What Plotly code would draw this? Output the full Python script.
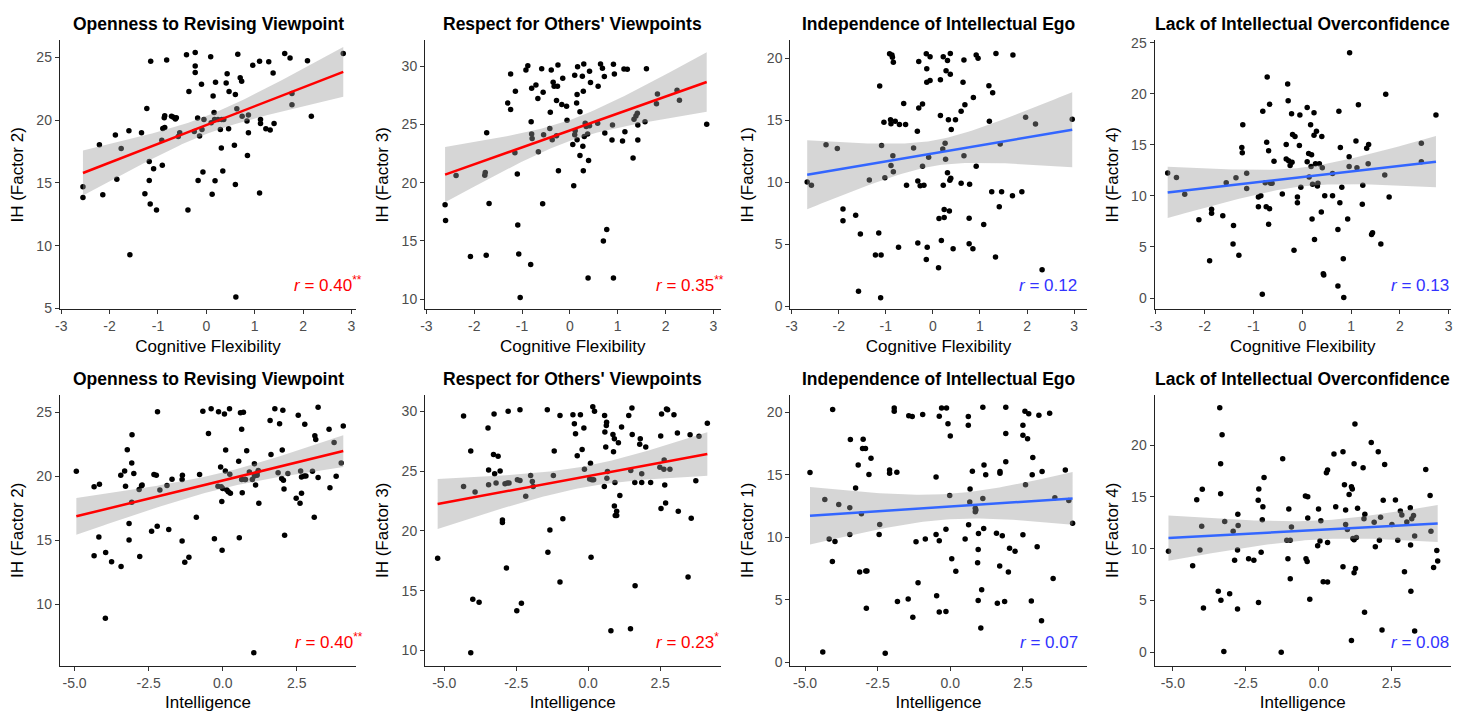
import numpy as np
import plotly.graph_objects as go

# ---------------------------------------------------------------------------
# Data: cognitive flexibility (row 1) and intelligence (row 2) against the
# four intellectual-humility factors.
# ---------------------------------------------------------------------------

# Cognitive Flexibility vs Openness to Revising Viewpoint (Factor 2)
cf_open_x = [
    -2.55, -2.55, -2.21, -2.14, -1.88, -1.85, -1.76, -1.60, -1.58, -1.34,
    -1.27, -1.23, -1.18, -1.18, -1.16, -1.15, -1.09, -1.03, -0.92, -0.91,
    -0.90, -0.86, -0.86, -0.87, -0.82, -0.72, -0.68, -0.64, -0.62, -0.58,
    -0.55, -0.41, -0.38, -0.36, -0.25, -0.23, -0.23, -0.23, -0.18, -0.17,
    -0.14, -0.10, -0.09, -0.05, -0.07, 0.09, 0.10, 0.12, 0.14, 0.16,
    0.17, 0.18, 0.19, 0.24, 0.29, 0.31, 0.32, 0.34, 0.36, 0.41,
    0.43, 0.46, 0.47, 0.58, 0.60, 0.60, 0.61, 0.65, 0.63, 0.70,
    0.73, 0.74, 0.84, 0.85, 0.87, 0.87, 0.96, 1.10, 1.10, 1.12,
    1.12, 1.23, 1.29, 1.32, 1.38, 1.40, 1.62, 1.73, 1.77, 1.77,
    2.09, 2.17, 2.83,
]
cf_open_y = [
    14.70, 13.84, 18.04, 14.05, 18.82, 15.30, 17.75, 19.16, 9.28, 19.00,
    14.13, 20.93, 16.71, 15.20, 13.32, 24.69, 16.13, 12.85, 18.40, 16.40,
    19.34, 19.42, 20.36, 20.20, 24.79, 20.31, 20.23, 20.10, 20.20, 18.69,
    19.00, 25.21, 12.85, 22.29, 19.10, 23.80, 24.32, 25.39, 20.18, 15.20,
    18.74, 22.86, 19.26, 20.05, 15.87, 25.05, 19.79, 14.10, 21.92, 20.62,
    20.05, 15.17, 23.02, 20.05, 19.26, 17.78, 20.05, 15.95, 20.05, 22.97,
    23.70, 19.32, 22.29, 18.01, 22.05, 14.88, 5.91, 25.26, 20.91, 23.38,
    23.10, 20.31, 19.94, 17.18, 20.41, 19.00, 24.37, 24.69, 14.20, 20.05,
    19.73, 19.32, 24.66, 19.21, 23.75, 19.73, 25.31, 24.95, 22.13, 21.22,
    24.74, 20.31, 25.31,
]

# Cognitive Flexibility vs Respect for Others' Viewpoints (Factor 3)
cf_resp_x = [
    -2.61, -2.60, -2.38, -2.08, -1.78, -1.77, -1.75, -1.74, -1.69, -1.30,
    -1.24, -1.24, -1.15, -1.14, -1.10, -1.09, -1.07, -1.04, -0.92, -0.88,
    -0.82, -0.81, -0.80, -0.80, -0.79, -0.71, -0.67, -0.66, -0.59, -0.57,
    -0.56, -0.55, -0.42, -0.41, -0.39, -0.37, -0.35, -0.33, -0.28, -0.26,
    -0.28, -0.25, -0.24, -0.17, -0.15, -0.07, -0.06, 0.06, 0.08, 0.10,
    0.10, 0.11, 0.14, 0.15, 0.16, 0.15, 0.21, 0.21, 0.26, 0.27,
    0.28, 0.28, 0.29, 0.30, 0.32, 0.34, 0.37, 0.38, 0.39, 0.41,
    0.43, 0.41, 0.59, 0.58, 0.64, 0.68, 0.70, 0.72, 0.73, 0.77,
    0.88, 0.89, 0.91, 0.91, 0.93, 1.10, 1.13, 1.15, 1.20, 1.32,
    1.34, 1.38, 1.41, 1.42, 1.42, 1.57, 1.60, 1.81, 1.83, 2.24,
    2.29, 2.86,
]
cf_resp_y = [
    18.11, 16.75, 20.62, 13.67, 20.65, 20.88, 13.78, 24.29, 18.22, 26.84,
    26.30, 29.35, 22.57, 27.85, 20.76, 16.36, 13.87, 10.14, 29.69, 30.06,
    12.97, 25.25, 28.11, 24.18, 23.81, 28.39, 27.23, 22.66, 29.80, 18.19,
    27.77, 24.12, 24.66, 26.05, 29.69, 23.70, 28.64, 28.28, 27.06, 28.28,
    24.04, 30.11, 21.02, 26.72, 28.98, 26.58, 25.37, 23.28, 19.75, 29.24,
    24.12, 24.46, 26.86, 27.57, 29.97, 23.70, 26.10, 22.34, 29.15, 23.14,
    27.85, 21.02, 30.20, 23.98, 25.11, 24.83, 24.18, 11.81, 21.92, 29.58,
    28.62, 24.89, 28.28, 25.11, 30.20, 29.83, 15.00, 29.12, 24.27, 15.99,
    23.67, 24.97, 30.17, 11.81, 29.35, 23.59, 29.77, 24.38, 29.75, 22.12,
    25.45, 25.73, 25.96, 24.97, 23.67, 25.25, 29.80, 26.78, 27.63, 27.94,
    27.09, 25.03,
]

# Cognitive Flexibility vs Independence of Intellectual Ego (Factor 1)
cf_indep_x = [
    -2.67, -2.58, -2.27, -2.03, -1.91, -1.91, -1.64, -1.54, -1.58, -1.35,
    -1.22, -1.15, -1.13, -1.10, -1.11, -1.09, -1.04, -1.02, -0.92, -0.90,
    -0.89, -0.89, -0.87, -0.86, -0.85, -0.84, -0.84, -0.80, -0.71, -0.73,
    -0.62, -0.58, -0.56, -0.41, -0.33, -0.32, -0.32, -0.30, -0.30, -0.27,
    -0.22, -0.22, -0.19, -0.14, -0.13, -0.13, -0.14, -0.12, -0.09, -0.06,
    -0.06, 0.12, 0.13, 0.16, 0.16, 0.18, 0.21, 0.22, 0.22, 0.24,
    0.24, 0.26, 0.27, 0.28, 0.31, 0.31, 0.33, 0.35, 0.36, 0.37,
    0.37, 0.38, 0.39, 0.43, 0.48, 0.60, 0.60, 0.64, 0.66, 0.66,
    0.68, 0.77, 0.77, 0.78, 0.86, 0.85, 0.92, 0.92, 0.96, 1.08,
    1.19, 1.20, 1.25, 1.27, 1.33, 1.34, 1.41, 1.43, 1.46, 1.69,
    1.70, 1.89, 1.97, 2.18, 2.32, 2.96,
]
cf_indep_y = [
    10.03, 9.76, 13.03, 12.72, 7.84, 6.89, 7.33, 5.83, 1.21, 10.18,
    4.12, 5.91, 17.76, 4.12, 0.69, 12.96, 14.85, 10.37, 20.37, 15.04,
    14.72, 11.35, 20.26, 20.08, 12.14, 19.68, 10.84, 14.93, 14.67, 4.75,
    16.36, 14.67, 9.76, 12.77, 14.12, 10.11, 5.09, 15.99, 19.74, 9.71,
    16.31, 11.29, 9.76, 3.77, 18.07, 19.16, 20.37, 4.75, 12.01, 18.21,
    20.13, 3.11, 7.07, 18.28, 15.38, 5.30, 12.69, 20.13, 9.76, 7.81,
    7.15, 13.14, 11.85, 19.00, 19.82, 10.77, 15.04, 7.68, 10.16, 18.71,
    20.40, 10.32, 14.25, 4.64, 15.04, 15.73, 9.92, 18.07, 19.87, 12.14,
    16.25, 7.10, 5.04, 9.84, 16.83, 4.64, 11.29, 20.26, 20.00, 6.60,
    17.78, 14.93, 9.23, 17.23, 3.96, 20.40, 8.02, 13.09, 9.23, 8.92,
    20.26, 9.23, 15.25, 14.70, 2.93, 15.09,
]

# Cognitive Flexibility vs Lack of Intellectual Overconfidence (Factor 4)
cf_overc_x = [
    -2.76, -2.58, -2.41, -2.12, -1.86, -1.86, -1.90, -1.63, -1.56, -1.41,
    -1.42, -1.36, -1.30, -1.24, -1.23, -1.22, -1.14, -1.14, -0.90, -0.90,
    -0.85, -0.81, -0.82, -0.76, -0.74, -0.72, -0.73, -0.69, -0.69, -0.67,
    -0.67, -0.65, -0.62, -0.58, -0.41, -0.33, -0.33, -0.30, -0.29, -0.28,
    -0.25, -0.22, -0.21, -0.20, -0.17, -0.15, -0.10, -0.10, -0.06, -0.05,
    -0.03, 0.10, 0.10, 0.13, 0.14, 0.17, 0.18, 0.19, 0.20, 0.21,
    0.24, 0.24, 0.25, 0.27, 0.29, 0.31, 0.32, 0.35, 0.39, 0.40,
    0.41, 0.43, 0.44, 0.46, 0.62, 0.62, 0.73, 0.73, 0.75, 0.77,
    0.78, 0.81, 0.84, 0.85, 0.93, 0.96, 0.96, 0.97, 1.12, 1.10,
    1.15, 1.23, 1.24, 1.32, 1.35, 1.36, 1.42, 1.44, 1.61, 1.69,
    1.71, 1.78, 2.44, 2.44, 2.74,
]
cf_overc_y = [
    12.25, 11.80, 10.15, 7.67, 8.68, 8.30, 3.66, 8.05, 11.29, 7.09,
    5.28, 11.77, 4.20, 14.73, 14.22, 16.95, 12.21, 10.72, 8.94, 9.89,
    10.02, 18.29, 0.38, 11.29, 8.94, 21.63, 15.24, 14.41, 7.22, 18.96,
    8.75, 11.23, 11.23, 13.39, 10.18, 15.04, 13.61, 20.96, 19.31, 13.45,
    12.98, 18.03, 13.30, 16.00, 4.68, 15.81, 9.89, 9.32, 14.92, 17.91,
    10.85, 18.64, 13.33, 14.15, 11.86, 16.95, 12.88, 14.03, 7.73, 11.13,
    15.94, 18.13, 5.73, 13.14, 16.32, 10.97, 11.23, 13.14, 8.43, 15.81,
    12.75, 2.39, 2.26, 10.02, 10.02, 12.18, 1.18, 6.71, 18.29, 9.32,
    14.73, 10.85, 3.85, 0.06, 7.73, 13.84, 12.88, 24.01, 12.75, 15.36,
    18.92, 9.19, 11.04, 14.66, 13.14, 15.04, 6.23, 6.39, 5.28, 12.05,
    19.94, 9.89, 15.14, 13.33, 17.91,
]

# Intelligence vs Openness to Revising Viewpoint (Factor 2)
iq_open_x = [
    -4.94, -4.34, -4.34, -4.16, -4.18, -3.95, -3.96, -3.75, -3.44, -3.43,
    -3.31, -3.28, -3.22, -3.16, -3.16, -3.07, -3.06, -3.07, -3.00, -2.82,
    -2.80, -2.74, -2.72, -2.40, -2.32, -2.24, -2.21, -2.20, -2.12, -1.88,
    -1.82, -1.71, -1.36, -1.37, -1.37, -1.28, -1.14, -0.89, -0.78, -0.67,
    -0.48, -0.39, -0.28, -0.16, -0.14, -0.07, -0.05, -0.03, -0.02, 0.00,
    0.06, 0.09, 0.10, 0.14, 0.23, 0.19, 0.26, 0.24, 0.54, 0.56,
    0.60, 0.64, 0.64, 0.66, 0.70, 0.75, 0.77, 0.81, 0.90, 1.00,
    1.05, 1.07, 1.07, 1.11, 1.16, 1.16, 1.20, 1.22, 1.60, 1.63,
    1.76, 1.87, 1.92, 1.99, 2.01, 2.03, 2.05, 2.07, 2.09, 2.20,
    2.48, 2.55, 2.61, 2.63, 2.66, 2.66, 2.75, 2.77, 2.81, 3.03,
    3.09, 3.11, 3.14, 3.22, 3.22, 3.59, 3.62, 3.76, 3.83, 4.00,
    4.07,
]
iq_open_y = [
    20.38, 19.17, 13.77, 19.37, 15.24, 14.03, 8.89, 13.31, 20.07, 12.93,
    20.40, 19.22, 22.07, 15.01, 16.29, 21.02, 23.23, 17.96, 20.20, 18.96,
    13.72, 19.25, 19.30, 15.70, 20.12, 20.07, 16.09, 25.03, 18.91, 19.27,
    15.83, 19.76, 20.07, 19.73, 14.93, 13.26, 13.65, 16.78, 20.12, 25.08,
    23.33, 25.28, 15.11, 19.22, 25.03, 20.71, 19.17, 18.01, 14.21, 19.04,
    24.87, 20.40, 22.05, 18.91, 25.28, 18.78, 18.66, 20.15, 21.17, 15.19,
    24.95, 19.73, 23.66, 18.71, 25.00, 19.73, 19.73, 21.99, 20.32, 19.73,
    6.20, 20.97, 20.02, 19.30, 20.07, 20.25, 20.45, 17.88, 24.36, 21.69,
    25.28, 20.27, 24.10, 19.81, 22.05, 25.15, 19.68, 18.99, 15.37, 20.20,
    18.27, 24.77, 17.88, 20.40, 18.66, 19.94, 20.02, 24.05, 20.02, 20.38,
    16.78, 23.15, 22.87, 19.89, 25.39, 23.66, 19.09, 22.64, 19.99, 21.02,
    23.92,
]

# Intelligence vs Respect for Others' Viewpoints (Factor 3)
iq_resp_x = [
    -5.23, -4.33, -4.33, -4.08, -4.08, -4.01, -3.93, -3.79, -3.48, -3.46,
    -3.46, -3.29, -3.27, -3.25, -3.20, -3.13, -3.06, -2.98, -2.98, -2.89,
    -2.84, -2.81, -2.78, -2.75, -2.48, -2.46, -2.37, -2.32, -2.37, -2.17,
    -2.00, -1.94, -1.91, -1.42, -1.40, -1.33, -1.21, -1.18, -0.98, -0.98,
    -0.88, -0.53, -0.48, -0.44, -0.38, -0.27, -0.21, -0.15, -0.13, 0.05,
    0.08, 0.10, 0.13, 0.16, 0.19, 0.22, 0.56, 0.57, 0.58, 0.61,
    0.63, 0.64, 0.65, 0.67, 0.79, 0.86, 0.88, 0.91, 0.93, 0.91,
    0.94, 0.99, 0.99, 1.05, 1.10, 1.16, 1.41, 1.47, 1.48, 1.52,
    1.53, 1.62, 1.63, 1.79, 1.81, 1.86, 1.86, 2.00, 2.17, 2.49,
    2.52, 2.53, 2.55, 2.63, 2.64, 2.66, 2.69, 2.72, 2.76, 2.84,
    2.98, 3.10, 3.13, 3.47, 3.54, 3.58, 3.74, 3.85, 4.14,
]
iq_resp_y = [
    17.71, 29.61, 23.72, 26.67, 9.81, 14.27, 23.25, 14.02, 28.60, 25.10,
    23.86, 26.39, 29.78, 24.77, 24.00, 26.25, 25.01, 20.91, 20.69, 23.94,
    16.89, 24.00, 30.00, 24.00, 13.31, 24.27, 24.21, 13.94, 30.14, 22.89,
    24.63, 24.13, 23.72, 30.14, 18.21, 20.08, 24.63, 26.67, 29.64, 15.73,
    21.02, 29.72, 28.95, 28.13, 26.28, 29.72, 26.80, 28.60, 25.15, 24.33,
    25.65, 17.80, 24.27, 30.39, 24.27, 30.00, 23.72, 29.64, 28.26, 27.02,
    28.82, 29.09, 24.41, 24.96, 11.65, 28.07, 26.61, 27.71, 24.05, 22.07,
    21.29, 21.65, 21.29, 27.36, 22.95, 28.68, 29.64, 11.82, 25.04, 30.28,
    28.07, 24.05, 15.40, 27.25, 27.71, 24.77, 24.05, 27.02, 24.05, 25.32,
    27.93, 21.87, 29.78, 25.15, 25.92, 23.83, 22.34, 30.19, 30.14, 25.15,
    29.72, 28.18, 21.65, 16.14, 28.04, 21.05, 24.19, 27.91, 29.01,
]

# Intelligence vs Independence of Intellectual Ego (Factor 1)
iq_indep_x = [
    -4.83, -4.39, -4.32, -4.17, -4.06, -4.05, -3.97, -3.84, -3.46, -3.46,
    -3.44, -3.26, -3.17, -3.12, -3.06, -3.00, -3.02, -2.92, -2.91, -2.89,
    -2.87, -2.80, -2.73, -2.43, -2.45, -2.24, -2.09, -2.09, -1.93, -1.93,
    -1.84, -1.82, -1.45, -1.43, -1.31, -1.29, -1.18, -1.11, -0.95, -0.86,
    -0.49, -0.49, -0.47, -0.38, -0.38, -0.38, -0.30, -0.15, -0.13, -0.15,
    -0.08, -0.02, 0.00, 0.05, 0.19, 0.51, 0.62, 0.62, 0.63, 0.67,
    0.68, 0.76, 0.86, 0.86, 0.88, 0.94, 0.96, 0.96, 0.97, 1.05,
    1.08, 1.12, 1.12, 1.15, 1.16, 1.22, 1.59, 1.62, 1.70, 1.71,
    1.71, 1.79, 1.87, 1.91, 1.91, 1.91, 2.00, 2.04, 2.23, 2.50,
    2.50, 2.50, 2.57, 2.59, 2.66, 2.70, 2.82, 2.79, 2.84, 2.99,
    3.05, 3.16, 3.14, 3.42, 3.54, 3.60, 3.96, 4.08, 4.21,
]
iq_indep_y = [
    15.18, 0.84, 13.03, 9.87, 8.08, 20.21, 9.68, 12.63, 12.37, 10.24,
    17.82, 13.95, 15.79, 7.24, 11.89, 17.84, 17.11, 17.11, 7.32, 4.34,
    7.32, 15.03, 16.32, 11.03, 10.24, 0.74, 15.39, 15.13, 20.34, 20.08,
    15.21, 4.87, 5.08, 19.71, 19.66, 3.61, 9.66, 6.37, 19.82, 9.87,
    14.82, 10.24, 5.34, 19.68, 9.74, 4.03, 20.34, 4.08, 20.34, 10.66,
    19.08, 13.34, 18.11, 8.29, 7.29, 9.87, 19.66, 18.95, 11.00, 12.82,
    13.87, 15.29, 12.32, 12.05, 12.18, 7.97, 4.95, 9.03, 10.32, 2.76,
    5.82, 13.11, 20.39, 10.71, 15.79, 15.00, 10.34, 4.74, 7.71, 15.26,
    15.13, 10.13, 4.87, 20.39, 18.29, 16.05, 7.24, 9.13, 8.89, 10.21,
    18.95, 18.16, 20.08, 14.21, 17.89, 19.87, 15.00, 4.92, 16.39, 9.26,
    19.76, 15.26, 3.34, 19.92, 6.71, 13.16, 15.39, 12.95, 11.13,
]

# Intelligence vs Lack of Intellectual Overconfidence (Factor 4)
iq_overc_x = [
    -5.15, -4.32, -4.18, -4.07, -4.01, -3.99, -3.95, -3.44, -3.39, -3.36,
    -3.36, -3.35, -3.31, -3.25, -3.22, -3.05, -2.93, -2.88, -2.78, -2.77,
    -2.78, -2.76, -2.40, -2.22, -2.07, -2.05, -2.06, -1.97, -1.93, -1.91,
    -1.87, -1.23, -1.28, -1.09, -1.02, -0.97, -0.97, -0.93, -1.05, -0.45,
    -0.37, -0.43, -0.39, -0.37, -0.30, -0.03, 0.00, 0.05, 0.08, 0.16,
    0.31, 0.27, 0.31, 0.31, 0.53, 0.59, 0.84, 0.84, 0.89, 0.93,
    0.93, 0.99, 1.05, 1.13, 1.18, 1.16, 1.13, 1.22, 1.25, 1.22,
    1.22, 1.27, 1.30, 1.34, 1.53, 1.56, 1.59, 1.58, 1.81, 1.91,
    1.95, 2.05, 2.09, 2.13, 2.18, 2.22, 2.27, 2.52, 2.64, 2.72,
    2.81, 2.86, 2.95, 3.03, 3.15, 3.16, 3.17, 3.20, 3.26, 3.30,
    3.30, 3.68, 3.83, 3.86, 3.95, 4.06, 4.09,
]
iq_overc_y = [
    9.75, 8.34, 14.73, 9.87, 12.16, 15.74, 4.26, 5.89, 23.61, 18.21,
    15.30, 5.02, 21.00, 0.06, 12.63, 5.64, 11.69, 8.87, 9.87, 13.32,
    4.17, 12.23, 9.03, 8.87, 14.67, 15.77, 4.80, 9.66, 12.79, 14.04,
    16.87, 18.68, 0.00, 10.82, 13.82, 10.82, 7.08, 12.10, 9.03, 15.08,
    15.02, 9.03, 8.75, 12.95, 5.11, 10.28, 13.82, 10.75, 12.70, 6.80,
    6.77, 17.34, 17.59, 10.60, 19.15, 14.04, 19.37, 8.24, 16.18, 13.73,
    12.32, 11.85, 15.23, 15.99, 10.97, 15.77, 1.13, 10.85, 22.04, 18.21,
    7.68, 8.09, 11.07, 13.89, 17.81, 12.88, 13.32, 3.86, 20.25, 12.54,
    10.19, 19.37, 10.82, 13.04, 2.13, 14.67, 18.12, 12.32, 14.70, 10.82,
    13.64, 13.26, 7.77, 12.57, 13.95, 10.34, 5.89, 12.88, 13.20, 11.22,
    2.04, 17.65, 15.14, 11.69, 8.18, 9.81, 8.81,
]

# Panel titles, axis labels, tick values and correlation labels
titles = [
    "Openness to Revising Viewpoint",
    "Respect for Others' Viewpoints",
    "Independence of Intellectual Ego",
    "Lack of Intellectual Overconfidence",
]
y_labels = ["IH (Factor 2)", "IH (Factor 3)", "IH (Factor 1)", "IH (Factor 4)"]
x_labels = ["Cognitive Flexibility", "Intelligence"]
cf_ticks = [-3, -2, -1, 0, 1, 2, 3]
iq_ticks = [-5.0, -2.5, 0.0, 2.5]
y_ticks = [0, 5, 10, 15, 20, 25, 30]
r_values = [["0.40", "0.35", "0.12", "0.13"], ["0.40", "0.23", "0.07", "0.08"]]
r_stars = [["**", "**", "", ""], ["**", "*", "", ""]]

# ---------------------------------------------------------------------------
# Layout / style
# ---------------------------------------------------------------------------
W, H = 1470, 717
FONT = "Liberation Sans, Arial, Helvetica, sans-serif"
RED = "#FF0000"
LINE_BLUE = "#3366FF"
TEXT_BLUE = "#3333FF"
BAND = "rgba(153,153,153,0.4)"

col_px = [(55, 353), (422, 719), (789, 1087), (1155, 1453)]
row_px = [(35, 309), (396, 672)]

# axis extents [x_lo, x_hi, y_lo, y_hi] for each panel
axis_ranges = [
    [(-3.03, 3.10, 4.92, 26.36), (-3.03, 3.15, 9.12, 32.23),
     (-3.03, 3.27, -0.26, 21.45), (-3.03, 3.05, -1.11, 25.22)],
    [(-5.50, 4.51, 5.17, 26.36), (-5.67, 4.60, 8.71, 31.38),
     (-5.51, 4.70, -0.26, 21.39), (-5.63, 4.55, -1.32, 24.86)],
]
r_label_x = [[0.782, 0.776, 0.764, 0.789], [0.785, 0.776, 0.767, 0.792]]

datasets = [
    [(cf_open_x, cf_open_y), (cf_resp_x, cf_resp_y),
     (cf_indep_x, cf_indep_y), (cf_overc_x, cf_overc_y)],
    [(iq_open_x, iq_open_y), (iq_resp_x, iq_resp_y),
     (iq_indep_x, iq_indep_y), (iq_overc_x, iq_overc_y)],
]


def lm_fit(x, y, n_out=80, t_crit=1.984):
    """Ordinary least squares line with a 95% confidence band."""
    x = np.asarray(x, float)
    y = np.asarray(y, float)
    n = len(x)
    b1, b0 = np.polyfit(x, y, 1)
    resid = y - (b0 + b1 * x)
    s = np.sqrt(np.sum(resid ** 2) / (n - 2))
    xm = x.mean()
    sxx = np.sum((x - xm) ** 2)
    xs = np.linspace(x.min(), x.max(), n_out)
    fit = b0 + b1 * xs
    se = s * np.sqrt(1.0 / n + (xs - xm) ** 2 / sxx)
    return xs, fit, fit - t_crit * se, fit + t_crit * se


fig = go.Figure()
layout_axes = {}
annotations = []

for r in range(2):
    for c in range(4):
        k = r * 4 + c + 1
        xname = "x" if k == 1 else f"x{k}"
        yname = "y" if k == 1 else f"y{k}"
        x, y = datasets[r][c]
        significant = r_stars[r][c] != ""
        line_col = RED if significant else LINE_BLUE
        text_col = RED if significant else TEXT_BLUE

        # points
        fig.add_trace(go.Scatter(
            x=x, y=y, mode="markers", xaxis=xname, yaxis=yname,
            marker=dict(size=5.5, color="black", line=dict(width=0)),
            showlegend=False, hoverinfo="x+y",
        ))
        # confidence band and fitted line
        xs, fit, lo, hi = lm_fit(x, y)
        fig.add_trace(go.Scatter(
            x=np.concatenate([xs, xs[::-1]]),
            y=np.concatenate([hi, lo[::-1]]),
            mode="lines", fill="toself", fillcolor=BAND,
            line=dict(width=0), xaxis=xname, yaxis=yname,
            showlegend=False, hoverinfo="skip",
        ))
        fig.add_trace(go.Scatter(
            x=xs, y=fit, mode="lines", xaxis=xname, yaxis=yname,
            line=dict(color=line_col, width=2.5),
            showlegend=False, hoverinfo="skip",
        ))

        x0, x1 = col_px[c]
        ytop, ybot = row_px[r]
        xr0, xr1, yr0, yr1 = axis_ranges[r][c]
        xt = cf_ticks if r == 0 else iq_ticks
        xt_text = [f"{v:g}" if r == 0 else f"{v:.1f}" for v in xt]

        common = dict(
            showline=True, linecolor="#222222", linewidth=1,
            ticks="outside", ticklen=4, tickwidth=1, tickcolor="#333333",
            showgrid=False, zeroline=False,
            tickfont=dict(family=FONT, size=14, color="#4d4d4d"),
            title_font=dict(family=FONT, size=17, color="black"),
        )
        layout_axes[f"xaxis{k if k > 1 else ''}"] = dict(
            common, domain=[x0 / W, x1 / W], anchor=yname,
            range=[xr0, xr1], tickmode="array", tickvals=xt, ticktext=xt_text,
            title=dict(text=x_labels[r], standoff=6),
        )
        layout_axes[f"yaxis{k if k > 1 else ''}"] = dict(
            common, domain=[1 - ybot / H, 1 - ytop / H], anchor=xname,
            range=[yr0, yr1], tickmode="array", tickvals=y_ticks,
            ticktext=[str(v) for v in y_ticks],
            title=dict(text=y_labels[c], standoff=8),
        )

        # panel title
        annotations.append(dict(
            text=f"<b>{titles[c]}</b>", xref=f"{xname} domain",
            yref=f"{yname} domain", x=0.5, y=1, xanchor="center",
            yanchor="middle", yshift=16, showarrow=False,
            font=dict(family=FONT, size=17.5, color="black"),
        ))
        # correlation label
        stars = r_stars[r][c]
        label = f"<i>r</i> = {r_values[r][c]}"
        if stars:
            label += f"<sup>{stars}</sup>"
        annotations.append(dict(
            text=label, xref=f"{xname} domain", yref=f"{yname} domain",
            x=r_label_x[r][c], y=0.045, xanchor="left", yanchor="bottom",
            showarrow=False, font=dict(family=FONT, size=17, color=text_col),
        ))

fig.update_layout(
    width=W, height=H,
    margin=dict(l=0, r=0, t=0, b=0),
    paper_bgcolor="white", plot_bgcolor="white",
    font=dict(family=FONT),
    annotations=annotations,
    **layout_axes,
)

fig.write_html("out.html")
